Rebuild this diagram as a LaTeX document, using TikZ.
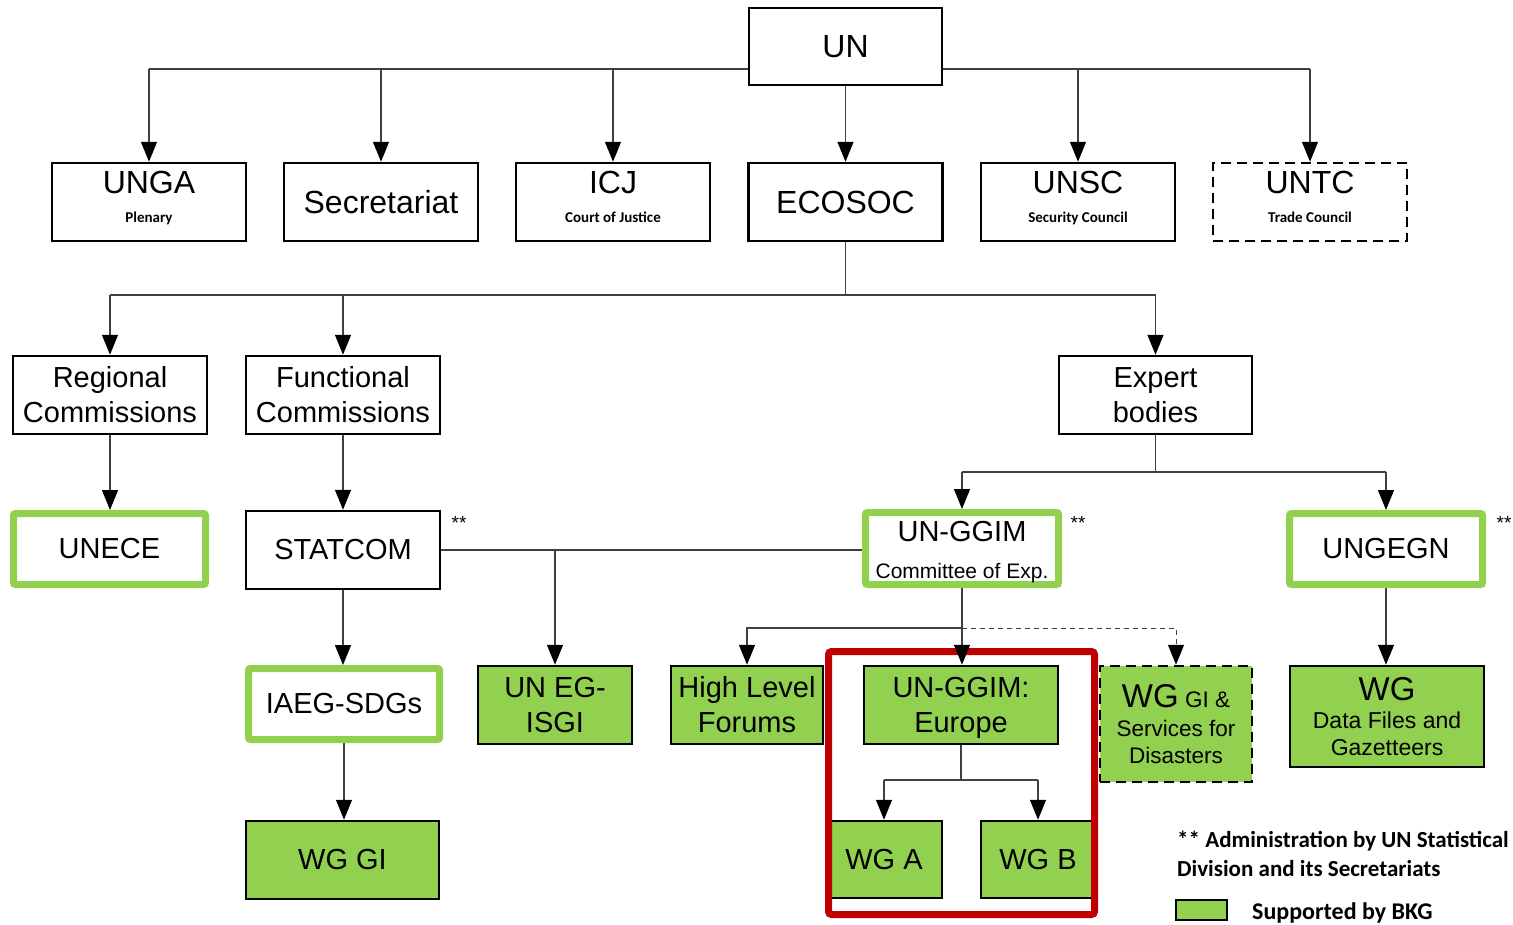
\documentclass[tikz,border=0pt]{standalone}
\usepackage{fontspec}
\setmainfont{Liberation Sans}
\newfontfamily\carl{Carlito}
\usetikzlibrary{arrows.meta,backgrounds}
\definecolor{bkg}{HTML}{92D050}
\definecolor{redb}{HTML}{C00000}
\newcommand\fs[2]{\fontsize{#1}{#2}\selectfont}
\newcommand\subt{\carl\bfseries\fs{15}{18}}
\newcommand\topstrut[1]{\rule{0pt}{#1}}
\tikzset{
  blk/.style={draw=black, line width=2.5pt, fill=white, align=center, inner sep=0pt, font=\fs{32}{28}},
  gbd/.style={draw=bkg, line width=7pt, fill=white, rounded corners=2pt, align=center, inner sep=0pt, font=\fs{29}{35}},
  gfl/.style={draw=black, line width=2.5pt, fill=bkg, align=center, inner sep=0pt, font=\fs{29}{35}},
  dsh/.style={dash pattern=on 10pt off 6pt},
  conn/.style={draw=black!75, line width=1.4pt},
  arr/.style={conn, -{Triangle[length=20pt,width=16pt,color=black]}},
  star/.style={font=\fs{19}{20}, inner sep=0pt, anchor=base},
  twoline/.style={text depth=11pt}
}
\begin{document}
\begin{tikzpicture}[x=1pt,y=-1pt]
\useasboundingbox (0,0) rectangle (1513,924);
% row 1
\node[blk, minimum width=193pt, minimum height=77pt] (un) at (845.5,46.5) {UN};
% row 2
\node[blk, twoline, minimum width=194pt, minimum height=78pt] (unga) at (149,202) {UNGA\\[1pt]{\subt Plenary}};
\node[blk, minimum width=194pt, minimum height=78pt] (secr) at (381,202) {Secretariat};
\node[blk, twoline, minimum width=194pt, minimum height=78pt] (icj) at (613,202) {ICJ\\[1pt]{\subt Court of Justice}};
\node[blk, minimum width=194pt, minimum height=78pt] (ecosoc) at (845.5,202) {ECOSOC};
\node[blk, twoline, minimum width=194pt, minimum height=78pt] (unsc) at (1078,202) {UNSC\\[1pt]{\subt Security Council}};
\node[blk, twoline, dsh, minimum width=194pt, minimum height=78pt] (untc) at (1310,202) {UNTC\\[1pt]{\subt Trade Council}};
% row 3
\node[blk, font=\fs{29}{35}, minimum width=194pt, minimum height=78pt] (regc) at (110,395) {Regional\\Commissions};
\node[blk, font=\fs{29}{35}, minimum width=194pt, minimum height=78pt] (func) at (343,395) {Functional\\Commissions};
\node[blk, font=\fs{29}{35}, minimum width=193pt, minimum height=78pt] (expert) at (1155.5,395) {Expert\\bodies};
% row 4
\node[gbd, minimum width=192pt, minimum height=71pt] (unece) at (109.5,549) {UNECE};
\node[blk, font=\fs{29}{35}, minimum width=194pt, minimum height=78pt] (statcom) at (343,550) {STATCOM};
\node[gbd, minimum width=193pt, minimum height=72pt] (ggim) at (962,548.5) {\topstrut{27pt}UN-GGIM\\[2pt]{\fs{21}{24}Committee of Exp.}};
\node[gbd, minimum width=193pt, minimum height=71pt] (ungegn) at (1386,549) {UNGEGN};
\node[star] (st1) at (459,529) {**};
\node[star] (st2) at (1078,529) {**};
\node[star] (st3) at (1504,529) {**};
% row 5
\node[gbd, minimum width=191pt, minimum height=71pt] (iaeg) at (344,704) {IAEG-SDGs};
\node[gfl, minimum width=154pt, minimum height=78pt] (egisgi) at (555,705) {UN EG-\\ISGI};
\node[gfl, minimum width=152pt, minimum height=78pt] (hlf) at (747,705) {High Level\\Forums};
\node[gfl, minimum width=194pt, minimum height=78pt] (europe) at (961,705) {\topstrut{26pt}UN-GGIM:\\Europe};
\node[gfl, dsh, font=\fs{22.5}{27}, minimum width=152pt, minimum height=116pt] (disaster) at (1176,724) {{\fs{33}{30}WG} GI \&\\[2pt]Services for\\Disasters};
\node[gfl, font=\fs{23}{26.5}, minimum width=194pt, minimum height=101pt] (wgdf) at (1387,716.5) {{\fs{33}{30}WG}\\[2pt]Data Files and\\Gazetteers};
% row 6
\node[gfl, minimum width=193pt, minimum height=78pt] (wggi) at (342.5,860) {WG GI};
\node[gfl, minimum width=116pt, minimum height=77pt] (wga) at (884,859.5) {WG A};
\node[gfl, minimum width=114pt, minimum height=77pt] (wgb) at (1038,859.5) {WG B};
% red frame
\node[draw=redb, line width=7pt, rounded corners=3pt, minimum width=266pt, minimum height=263pt, inner sep=0pt] (redframe) at (961.5,783) {};
\draw[arr] (ggim.south) -- (ggim.south |- europe.north);
% legend
\node[draw=black, line width=2pt, fill=bkg, minimum width=51pt, minimum height=20pt, inner sep=0pt] (legbox) at (1201.5,910) {};
\node[anchor=north west, inner sep=0pt, align=left, font=\carl\bfseries\fs{23}{29}] (legtext) at (1177,831) {**~Administration by UN Statistical\\Division and its Secretariats};
\node[anchor=base west, inner sep=0pt, font=\carl\bfseries\fs{24}{29}] (legsup) at (1252,919) {Supported by BKG};
% connectors
\begin{scope}[on background layer]
\coordinate (unbar) at (0,69);
\draw[conn] (unga.north |- unbar) -- (untc.north |- unbar);
\draw[arr] (unga.north |- unbar) -- (unga.north);
\draw[arr] (secr.north |- unbar) -- (secr.north);
\draw[arr] (icj.north |- unbar) -- (icj.north);
\draw[arr] (un.south) -- (ecosoc.north);
\draw[arr] (unsc.north |- unbar) -- (unsc.north);
\draw[arr] (untc.north |- unbar) -- (untc.north);
\coordinate (ecbar) at (0,295);
\draw[conn] (ecosoc.south) -- (ecosoc.south |- ecbar);
\draw[conn] (regc.north |- ecbar) -- (expert.north |- ecbar);
\draw[arr] (regc.north |- ecbar) -- (regc.north);
\draw[arr] (func.north |- ecbar) -- (func.north);
\draw[arr] (expert.north |- ecbar) -- (expert.north);
\draw[arr] (regc.south) -- (regc.south |- unece.north);
\draw[arr] (func.south) -- (func.south |- statcom.north);
\coordinate (exbar) at (0,472);
\draw[conn] (expert.south) -- (expert.south |- exbar);
\draw[conn] (ggim.north |- exbar) -- (ungegn.north |- exbar);
\draw[arr] (ggim.north |- exbar) -- (ggim.north);
\draw[arr] (ungegn.north |- exbar) -- (ungegn.north);
\draw[conn] (statcom.east) -- (statcom.east -| ggim.west);
\draw[arr] (egisgi.north |- statcom.east) -- (egisgi.north);
\draw[arr] (statcom.south) -- (statcom.south |- iaeg.north);
\draw[arr] (iaeg.south) -- (iaeg.south |- wggi.north);
\coordinate (gbar) at (0,628);
\draw[arr] (ggim.south |- gbar) -| (hlf.north);
\draw[arr, line width=1pt, dash pattern=on 5pt off 4pt] (ggim.south |- gbar) -| (disaster.north);
\draw[arr] (ungegn.south) -- (ungegn.south |- wgdf.north);
\coordinate (eubar) at (0,780);
\draw[conn] (europe.south) -- (europe.south |- eubar);
\draw[conn] (wga.north |- eubar) -- (wgb.north |- eubar);
\draw[arr] (wga.north |- eubar) -- (wga.north);
\draw[arr] (wgb.north |- eubar) -- (wgb.north);
\end{scope}
\end{tikzpicture}
\end{document}
